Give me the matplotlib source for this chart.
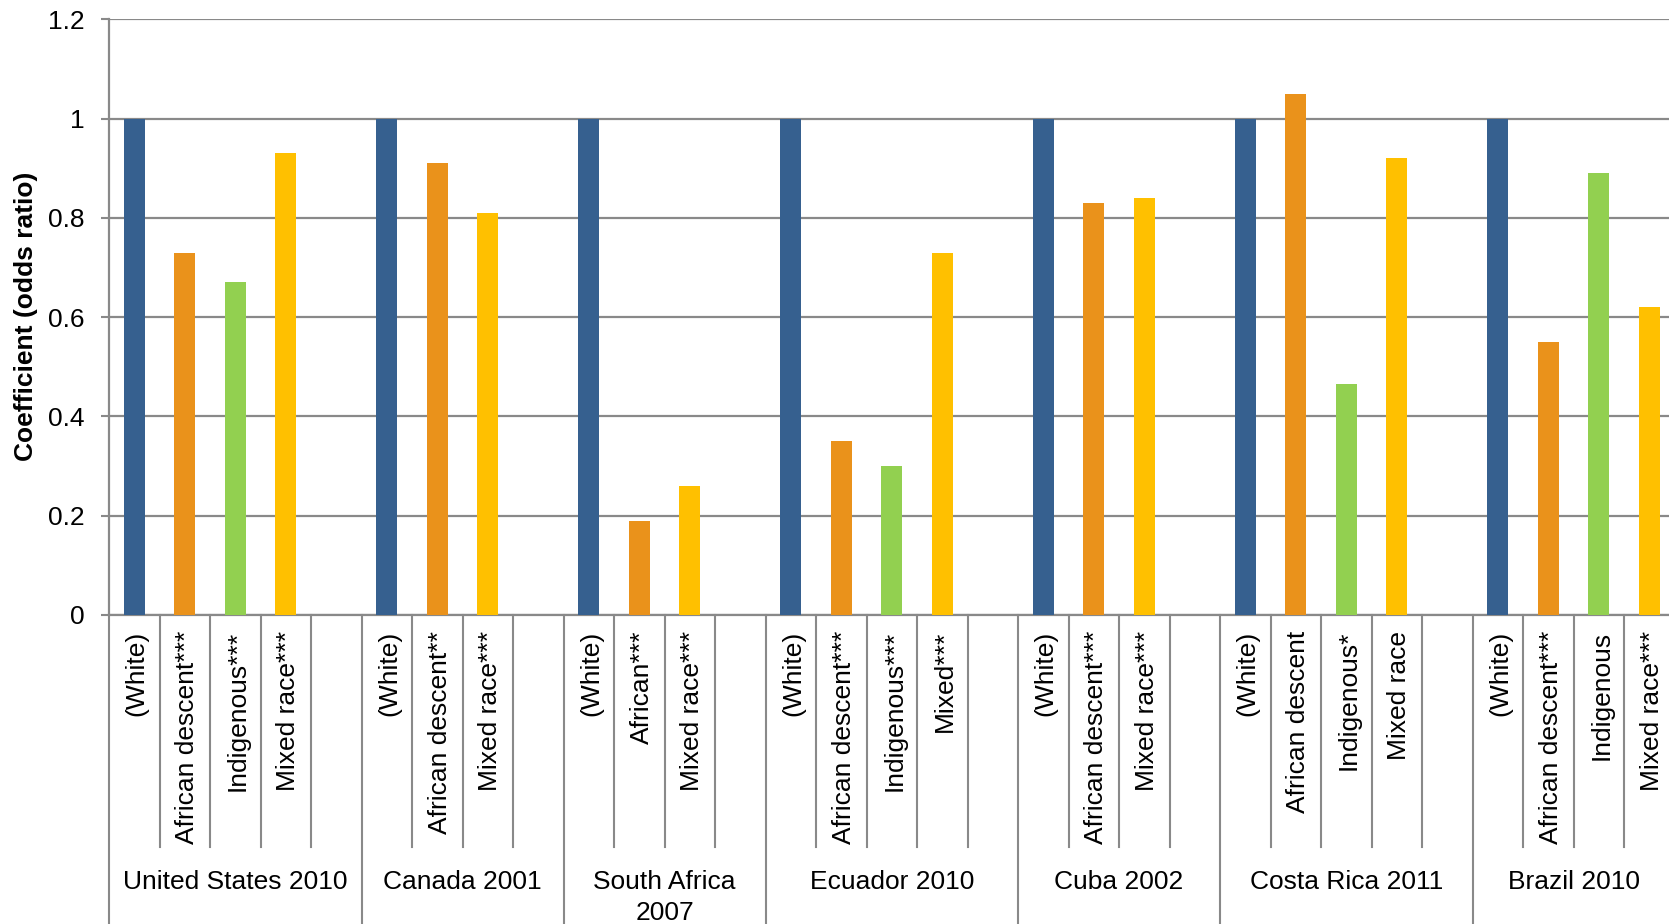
import numpy as np
import matplotlib
matplotlib.use("Agg")
import matplotlib.pyplot as plt
from matplotlib.transforms import blended_transform_factory

plt.rcParams['font.family'] = ['Liberation Sans', 'DejaVu Sans']

# ---- data -------------------------------------------------------------
countries = ["United States 2010", "Canada 2001", "South Africa\n2007",
             "Ecuador 2010", "Cuba 2002", "Costa Rica 2011", "Brazil 2010"]

group_labels = [
    ["(White)", "African descent***", "Indigenous***", "Mixed race***"],
    ["(White)", "African descent**", "Mixed race***"],
    ["(White)", "African***", "Mixed race***"],
    ["(White)", "African descent***", "Indigenous***", "Mixed***"],
    ["(White)", "African descent***", "Mixed race***"],
    ["(White)", "African descent", "Indigenous*", "Mixed race"],
    ["(White)", "African descent***", "Indigenous", "Mixed race***"],
]

group_values = [
    [1.0, 0.73, 0.67, 0.93],
    [1.0, 0.91, 0.81],
    [1.0, 0.19, 0.26],
    [1.0, 0.35, 0.30, 0.73],
    [1.0, 0.83, 0.84],
    [1.0, 1.05, 0.465, 0.92],
    [1.0, 0.55, 0.89, 0.62],
]

y_ticks = [0, 0.2, 0.4, 0.6, 0.8, 1.0, 1.2]
y_title = "Coefficient (odds ratio)"

# ---- style ------------------------------------------------------------
colors = {"(White": "#36608F", "African": "#EA921B",
          "Indigenous": "#92D050", "Mixed": "#FFC000"}
grid_color = "#898989"
W, H = 1669, 924
FS = 19


def color_for(label):
    for key, c in colors.items():
        if label.startswith(key):
            return c
    return "#888888"


# slot layout: each country's categories followed by an empty slot
slot_labels = []
slot_values = []
group_spans = []
for gi, (labs, vals) in enumerate(zip(group_labels, group_values)):
    start = len(slot_labels)
    slot_labels += labs
    slot_values += vals
    if gi < len(group_labels) - 1:
        slot_labels.append("")
        slot_values.append(None)
    group_spans.append((start, len(slot_labels)))
n_slots = len(slot_labels)

fig = plt.figure(figsize=(W / 100, H / 100), dpi=100)
x0, x1 = 109, 109 + 50.5 * n_slots
y_top, y_zero = 19.3, 614.8
ax = fig.add_axes([x0 / W, (H - y_zero) / H, (x1 - x0) / W, (y_zero - y_top) / H])

xs = [i for i, v in enumerate(slot_values) if v is not None]
vs = [slot_values[i] for i in xs]
cs = [color_for(slot_labels[i]) for i in xs]
ax.bar(xs, vs, width=0.42, color=cs, zorder=3)

ax.set_xlim(-0.5, n_slots - 0.5)
ax.set_ylim(0, 1.2)
ax.set_yticks(y_ticks)
ax.set_yticklabels([f"{t:g}" for t in y_ticks])
ax.set_xticks([])
ax.yaxis.grid(True, color=grid_color, lw=1.6, zorder=0)
ax.set_axisbelow(True)
for s in ("top", "right"):
    ax.spines[s].set_visible(False)
for s in ("left", "bottom"):
    ax.spines[s].set_color(grid_color)
    ax.spines[s].set_linewidth(1.6)
ax.tick_params(axis="y", length=5.8, width=1.5, color=grid_color,
               pad=12, labelsize=FS)

blend = blended_transform_factory(ax.transData, fig.transFigure)

# category labels (rotated)
for i, lab in enumerate(slot_labels):
    if lab:
        ax.text(i + 0.05, (H - 631) / H, lab, rotation=90, ha="center", va="top",
                fontsize=FS, transform=blend)

# separators in the category area
group_edges = {s for s, _ in group_spans}
for k in range(n_slots):
    b = k - 0.5
    y_end = 0.0 if k in group_edges else (H - 847) / H
    ax.plot([b, b], [(H - y_zero) / H, y_end], color=grid_color, lw=1.5,
            transform=blend, clip_on=False)

# country labels
for name, (s, e) in zip(countries, group_spans):
    cx = (s + e) / 2 - 0.5
    ax.text(cx, (H - 870) / H, name, ha="center", va="top",
            fontsize=FS, transform=blend, linespacing=1.36)

fig.text(26 / W, 1 - 316 / H, y_title, rotation=90, ha="center", va="center",
         fontsize=FS, fontweight="bold")

fig.savefig("out.png", dpi=100)
